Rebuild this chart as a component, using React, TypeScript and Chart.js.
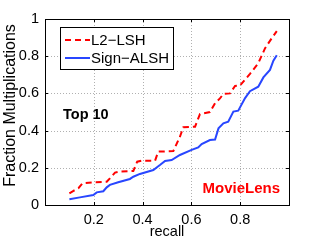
import React, { useEffect, useRef } from "react";
import { Chart, registerables } from "chart.js";

Chart.register(...registerables);

const l2lshX = [0.1, 0.115, 0.137, 0.154, 0.2, 0.253, 0.266, 0.287, 0.307, 0.362, 0.378, 0.396, 0.451, 0.464, 0.526, 0.553, 0.567, 0.615, 0.635, 0.676, 0.697, 0.717, 0.731, 0.758, 0.779, 0.799, 0.84, 0.874, 0.902, 0.929, 0.95];
const l2lshY = [0.063, 0.075, 0.09, 0.117, 0.122, 0.125, 0.143, 0.174, 0.18, 0.183, 0.233, 0.238, 0.238, 0.287, 0.29, 0.367, 0.418, 0.421, 0.489, 0.5, 0.547, 0.573, 0.597, 0.6, 0.64, 0.642, 0.705, 0.762, 0.843, 0.896, 0.935];

const signX = [0.1, 0.143, 0.198, 0.212, 0.239, 0.253, 0.266, 0.3, 0.348, 0.362, 0.389, 0.444, 0.471, 0.492, 0.519, 0.553, 0.601, 0.628, 0.642, 0.676, 0.697, 0.711, 0.731, 0.751, 0.772, 0.792, 0.82, 0.84, 0.874, 0.895, 0.922, 0.936, 0.95];
const signY = [0.031, 0.041, 0.054, 0.068, 0.074, 0.095, 0.108, 0.122, 0.14, 0.152, 0.167, 0.188, 0.215, 0.237, 0.242, 0.269, 0.296, 0.31, 0.328, 0.349, 0.352, 0.412, 0.439, 0.448, 0.502, 0.507, 0.575, 0.612, 0.636, 0.686, 0.726, 0.776, 0.805];

const seriesNames = ["L2\u2212LSH", "Sign\u2212ALSH"];
const xTicks = [0.2, 0.4, 0.6, 0.8];
const yTicks = [0, 0.2, 0.4, 0.6, 0.8, 1];
const xTitle = "recall";
const yTitle = "Fraction Multiplications";
const topLabel = "Top 10";
const datasetLabel = "MovieLens";

const RED = "#ff0000";
const BLUE = "#2846ff";
const FONT = "'Liberation Sans', Arial, Helvetica, sans-serif";

const decorPlugin = {
  id: "decor",
  beforeDatasetsDraw(chart: any) {
    const { ctx, chartArea: a, scales } = chart;
    ctx.save();
    ctx.strokeStyle = "#b0b0b0";
    ctx.lineWidth = 1;
    ctx.setLineDash([1, 2]);
    for (const v of xTicks) {
      const px = Math.round(scales.x.getPixelForValue(v)) + 0.5;
      ctx.beginPath();
      ctx.moveTo(px, a.top);
      ctx.lineTo(px, a.bottom);
      ctx.stroke();
    }
    for (const v of yTicks) {
      if (v <= 0 || v >= 1) continue;
      const py = Math.round(scales.y.getPixelForValue(v)) + 0.5;
      ctx.beginPath();
      ctx.moveTo(a.left, py);
      ctx.lineTo(a.right, py);
      ctx.stroke();
    }
    ctx.restore();
  },
  afterDraw(chart: any) {
    const { ctx, chartArea: a, scales } = chart;
    ctx.save();
    ctx.strokeStyle = "#000";
    ctx.lineWidth = 1;
    ctx.setLineDash([]);
    ctx.strokeRect(Math.round(a.left) + 0.5, Math.round(a.top) + 0.5, Math.round(a.right - a.left), Math.round(a.bottom - a.top));
    const tl = 3;
    for (const v of xTicks) {
      const px = Math.round(scales.x.getPixelForValue(v)) + 0.5;
      ctx.beginPath();
      ctx.moveTo(px, a.bottom);
      ctx.lineTo(px, a.bottom - tl);
      ctx.moveTo(px, a.top);
      ctx.lineTo(px, a.top + tl);
      ctx.stroke();
    }
    for (const v of yTicks) {
      const py = Math.round(scales.y.getPixelForValue(v)) + 0.5;
      ctx.beginPath();
      ctx.moveTo(a.left, py);
      ctx.lineTo(a.left + tl, py);
      ctx.moveTo(a.right, py);
      ctx.lineTo(a.right - tl, py);
      ctx.stroke();
    }
    // legend
    const lx = 60, ly = 27, lw = 113, lh = 42;
    ctx.fillStyle = "#fff";
    ctx.fillRect(lx, ly, lw, lh);
    ctx.strokeStyle = "#000";
    ctx.strokeRect(lx + 0.5, ly + 0.5, lw, lh);
    ctx.lineWidth = 2;
    ctx.strokeStyle = RED;
    ctx.setLineDash([6, 4]);
    ctx.beginPath();
    ctx.moveTo(65, 40);
    ctx.lineTo(90, 40);
    ctx.stroke();
    ctx.strokeStyle = BLUE;
    ctx.setLineDash([]);
    ctx.beginPath();
    ctx.moveTo(65, 58);
    ctx.lineTo(90, 58);
    ctx.stroke();
    ctx.fillStyle = "#000";
    ctx.font = `15px ${FONT}`;
    ctx.textAlign = "left";
    ctx.textBaseline = "middle";
    ctx.fillText(seriesNames[0], 91, 40.5);
    ctx.fillText(seriesNames[1], 91, 58.5);
    // annotations
    ctx.font = `bold 14.5px ${FONT}`;
    ctx.fillText(topLabel, 63, 115);
    ctx.fillStyle = RED;
    ctx.font = `bold 15px ${FONT}`;
    ctx.textAlign = "right";
    ctx.fillText(datasetLabel, 280, 189);
    // axis titles
    ctx.fillStyle = "#000";
    ctx.font = `14.5px ${FONT}`;
    ctx.textAlign = "center";
    ctx.fillText(xTitle, 167, 232);
    ctx.font = `16px ${FONT}`;
    ctx.translate(10.5, 105.5);
    ctx.rotate(-Math.PI / 2);
    ctx.fillText(yTitle, 0, 0);
    ctx.restore();
  },
};

export default function App() {
  const ref = useRef<HTMLCanvasElement | null>(null);
  useEffect(() => {
    if (!ref.current) return;
    const chart = new Chart(ref.current, {
      type: "line",
      data: {
        datasets: [
          {
            label: seriesNames[0],
            data: l2lshX.map((x, i) => ({ x, y: l2lshY[i] })),
            borderColor: RED,
            borderWidth: 2,
            borderDash: [6, 4],
            pointRadius: 0,
            tension: 0,
            fill: false,
          },
          {
            label: seriesNames[1],
            data: signX.map((x, i) => ({ x, y: signY[i] })),
            borderColor: BLUE,
            borderWidth: 2,
            pointRadius: 0,
            tension: 0,
            fill: false,
          },
        ],
      },
      options: {
        responsive: false,
        animation: false,
        devicePixelRatio: 1,
        layout: { padding: { top: 19, right: 30, left: 0, bottom: 0 } },
        plugins: { legend: { display: false }, tooltip: { enabled: false } },
        scales: {
          x: {
            type: "linear",
            min: 0,
            max: 1,
            afterFit: (s: any) => { s.height = 35; },
            afterBuildTicks: (s: any) => { s.ticks = xTicks.map((v) => ({ value: v })); },
            grid: { display: false, drawTicks: false },
            border: { display: false },
            ticks: {
              padding: 6,
              color: "#000",
              font: { family: FONT, size: 14.5 },
              maxRotation: 0,
              callback: (v: any) => String(v),
            },
          },
          y: {
            type: "linear",
            min: 0,
            max: 1,
            afterFit: (s: any) => { s.width = 45; },
            afterBuildTicks: (s: any) => { s.ticks = yTicks.map((v) => ({ value: v })); },
            grid: { display: false, drawTicks: false },
            border: { display: false },
            ticks: {
              padding: 6,
              color: "#000",
              font: { family: FONT, size: 14.5 },
              callback: (v: any) => String(v),
            },
          },
        },
      },
      plugins: [decorPlugin],
    } as any);
    return () => chart.destroy();
  }, []);
  return (
    <div style={{ position: "fixed", left: 0, top: 0, width: 319, height: 240, background: "#fff" }}>
      <canvas ref={ref} width={319} height={240} />
    </div>
  );
}
